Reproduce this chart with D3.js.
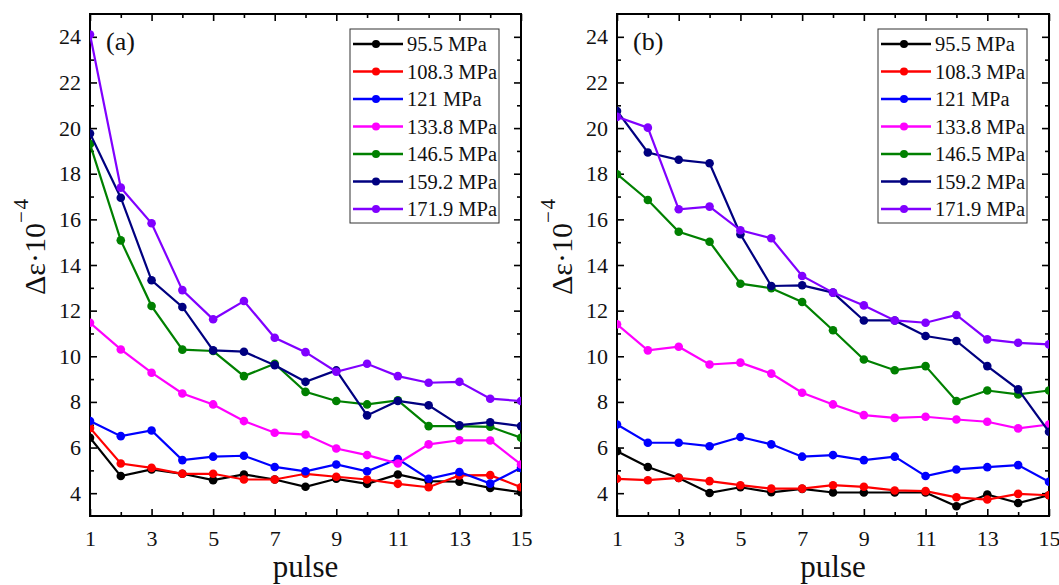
<html>
<head>
<script src="https://cdnjs.cloudflare.com/ajax/libs/d3/7.8.5/d3.min.js"></script>
<style>
  body { margin: 0; background: #fff; }
  svg text { font-family: "Liberation Serif", "Tinos", "Times New Roman", "DejaVu Serif", serif !important; fill: #111; }
</style>
</head>
<body>
<script>
// pulse numbers and tick values
const pulses = [1, 2, 3, 4, 5, 6, 7, 8, 9, 10, 11, 12, 13, 14, 15];
const xMajor = [1, 3, 5, 7, 9, 11, 13, 15];
const xMinor = [2, 4, 6, 8, 10, 12, 14];
const yMajor = [4, 6, 8, 10, 12, 14, 16, 18, 20, 22, 24];
const yMinor = [5, 7, 9, 11, 13, 15, 17, 19, 21, 23];

const labels = ["95.5 MPa", "108.3 MPa", "121 MPa", "133.8 MPa", "146.5 MPa", "159.2 MPa", "171.9 MPa"];
const colors = ["#000000", "#ff0000", "#0000ff", "#ff00ff", "#008000", "#000080", "#8000ff"];

// panel (a)
const a95  = [6.43, 4.75, 5.04, 4.85, 4.57, 4.82, 4.6, 4.28, 4.63, 4.41, 4.82, 4.53, 4.5, 4.23, 4.04];
const a108 = [6.86, 5.3, 5.11, 4.85, 4.85, 4.6, 4.6, 4.85, 4.72, 4.6, 4.41, 4.26, 4.78, 4.79, 4.26];
const a121 = [7.16, 6.5, 6.75, 5.45, 5.6, 5.64, 5.15, 4.96, 5.26, 4.96, 5.5, 4.63, 4.93, 4.42, 5.11];
const a133 = [11.47, 10.3, 9.28, 8.37, 7.89, 7.16, 6.65, 6.57, 5.96, 5.67, 5.3, 6.14, 6.32, 6.31, 5.26];
const a146 = [19.3, 15.08, 12.2, 10.29, 10.23, 9.13, 9.67, 8.44, 8.04, 7.89, 8.07, 6.94, 6.94, 6.91, 6.43];
const a159 = [19.76, 16.95, 13.33, 12.16, 10.26, 10.2, 9.61, 8.88, 9.38, 7.41, 8.04, 7.85, 6.98, 7.11, 6.94];
const a171 = [24.1, 17.39, 15.83, 12.9, 11.62, 12.42, 10.81, 10.18, 9.32, 9.67, 9.13, 8.84, 8.88, 8.14, 8.04];

// panel (b)
const b95  = [5.84, 5.15, 4.67, 4.01, 4.26, 4.04, 4.19, 4.03, 4.03, 4.03, 4.03, 3.43, 3.94, 3.57, 3.91];
const b108 = [4.63, 4.57, 4.67, 4.53, 4.35, 4.2, 4.2, 4.35, 4.28, 4.12, 4.09, 3.82, 3.72, 3.97, 3.91];
const b121 = [7.01, 6.21, 6.21, 6.06, 6.46, 6.14, 5.6, 5.67, 5.45, 5.6, 4.75, 5.04, 5.14, 5.23, 4.5];
const b133 = [11.4, 10.26, 10.42, 9.64, 9.72, 9.24, 8.4, 7.89, 7.42, 7.3, 7.35, 7.23, 7.13, 6.84, 7.01];
const b146 = [17.98, 16.85, 15.46, 15.02, 13.18, 12.98, 12.38, 11.14, 9.86, 9.39, 9.57, 8.04, 8.5, 8.33, 8.5];
const b159 = [20.75, 18.93, 18.61, 18.46, 15.35, 13.08, 13.11, 12.79, 11.57, 11.57, 10.89, 10.67, 9.57, 8.55, 6.69];
const b171 = [20.49, 20.02, 16.44, 16.56, 15.52, 15.17, 13.52, 12.79, 12.23, 11.57, 11.47, 11.81, 10.74, 10.59, 10.52];

const W = 1059, H = 585;
const svg = d3.select("body").append("svg").attr("width", W).attr("height", H);

function panel(id, left, right, tag, series) {
  const top = 14, bottom = 516;
  const x = d3.scaleLinear().domain([1, 15]).range([left, right]);
  const y = d3.scaleLinear().domain([3, 25]).range([bottom, top]);
  const g = svg.append("g");

  g.append("clipPath").attr("id", "clip" + id)
    .append("rect").attr("x", left).attr("y", top)
    .attr("width", right - left).attr("height", bottom - top);

  // ticks inside, all four sides
  const major = 7, minor = 4;
  const axes = [
    [d3.axisBottom(x).tickValues(xMajor), "translate(0," + bottom + ")", true],
    [d3.axisBottom(x).tickValues(xMinor), "translate(0," + bottom + ")", false],
    [d3.axisTop(x).tickValues(xMajor), "translate(0," + top + ")", false],
    [d3.axisTop(x).tickValues(xMinor), "translate(0," + top + ")", false],
    [d3.axisLeft(y).tickValues(yMajor), "translate(" + left + ",0)", true],
    [d3.axisLeft(y).tickValues(yMinor), "translate(" + left + ",0)", false],
    [d3.axisRight(y).tickValues(yMajor), "translate(" + right + ",0)", false],
    [d3.axisRight(y).tickValues(yMinor), "translate(" + right + ",0)", false]
  ];
  axes.forEach((a, i) => {
    const isMajor = i % 2 == 0;
    const ax = a[0].tickSize(-(isMajor ? major : minor)).tickSizeOuter(0).tickPadding(9);
    if (!a[2]) ax.tickFormat("");
    const ag = g.append("g").attr("transform", a[1]).call(ax)
      .attr("font-family", null).attr("font-size", null);
    ag.select(".domain").remove();
    ag.selectAll("line").attr("stroke", "#000").attr("stroke-width", 1.6);
    ag.selectAll("text").style("font-size", "22px").attr("fill", "#111");
    if (i == 0) ag.selectAll("text").attr("y", 14);
  });

  g.append("rect").attr("x", left).attr("y", top)
    .attr("width", right - left).attr("height", bottom - top)
    .attr("fill", "none").attr("stroke", "#000").attr("stroke-width", 2);

  const line = d3.line().x((d, i) => x(pulses[i])).y(d => y(d));
  const plot = g.append("g").attr("clip-path", "url(#clip" + id + ")");
  series.forEach((s, k) => {
    plot.append("path").datum(s).attr("d", line)
      .attr("fill", "none").attr("stroke", colors[k]).attr("stroke-width", 2.2);
    plot.selectAll(".pt" + k).data(s).enter().append("circle")
      .attr("cx", (d, i) => x(pulses[i])).attr("cy", d => y(d))
      .attr("r", 4.3).attr("fill", colors[k]);
  });

  // panel tag
  g.append("text").attr("x", left + 16).attr("y", top + 36)
    .style("font-size", "26px").text(tag);

  // legend
  const lx = right - 171, ly = top + 15, lw = 149, lh = 194;
  g.append("rect").attr("x", lx).attr("y", ly).attr("width", lw).attr("height", lh)
    .attr("fill", "#fff").attr("stroke", "#333").attr("stroke-width", 1);
  labels.forEach((lab, k) => {
    const yy = ly + 15 + k * 27.5;
    g.append("line").attr("x1", lx + 3).attr("x2", lx + 53).attr("y1", yy).attr("y2", yy)
      .attr("stroke", colors[k]).attr("stroke-width", 2.5);
    g.append("circle").attr("cx", lx + 26).attr("cy", yy).attr("r", 4).attr("fill", colors[k]);
    g.append("text").attr("x", lx + 57).attr("y", yy + 7)
      .style("font-size", "20.5px").text(lab);
  });

  // axis titles
  g.append("text").attr("x", (left + right) / 2).attr("y", 577)
    .attr("text-anchor", "middle").style("font-size", "31px").text("pulse");

  const yl = left - 45, yc = 247;
  const t = g.append("text").attr("transform", "translate(" + yl + "," + yc + ") rotate(-90)")
    .attr("text-anchor", "middle").style("font-size", "30px");
  t.append("tspan").text("\u0394\u03b5\u00b710");
  t.append("tspan").attr("dy", -17).style("font-size", "21px").text("\u2212\u200a4");
}

panel("a", 90, 521, "(a)", [a95, a108, a121, a133, a146, a159, a171]);
panel("b", 617, 1049, "(b)", [b95, b108, b121, b133, b146, b159, b171]);
</script>
</body>
</html>
